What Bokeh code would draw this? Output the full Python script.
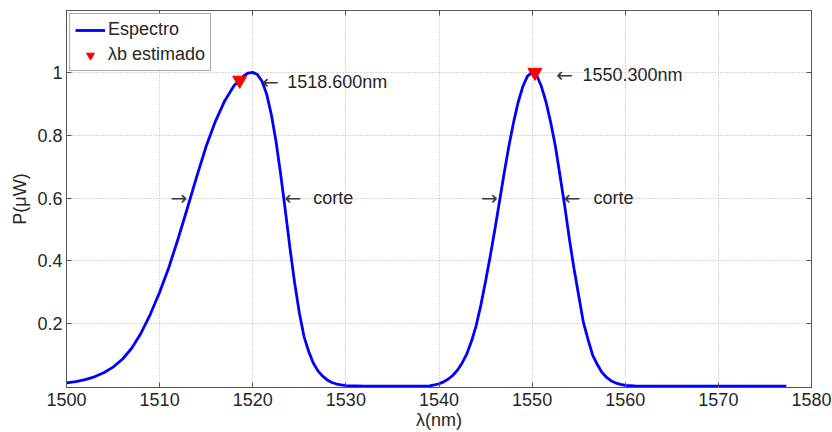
from bokeh.plotting import figure
from bokeh.models import (ColumnDataSource, LinearAxis, FixedTicker, Range1d,
                          Legend, LegendItem)
from bokeh.core.properties import value
from bokeh.embed import file_html
from bokeh.resources import INLINE

# ---------------- data ----------------
wavelength = [1500, 1501, 1502, 1503, 1504, 1505, 1506, 1507, 1508, 1509,
              1510, 1511, 1512, 1513, 1514, 1515, 1516, 1517, 1518,
              1518.6, 1519, 1519.5, 1520, 1520.5, 1521, 1521.5, 1522, 1522.5,
              1523, 1523.5, 1524, 1524.5, 1525, 1525.5, 1526, 1526.5, 1527,
              1527.5, 1528, 1528.5, 1529, 1529.5, 1530,
              1531, 1532, 1534, 1536, 1538, 1539, 1539.5,
              1540, 1540.5, 1541, 1541.5, 1542, 1542.5, 1543, 1543.5, 1544, 1544.5,
              1545, 1545.5, 1546, 1546.5, 1547, 1547.5, 1548, 1548.5, 1549, 1549.5,
              1550, 1550.5, 1551, 1551.5, 1552, 1552.5, 1553, 1553.5, 1554, 1554.5,
              1555, 1555.5, 1556, 1556.5, 1557, 1557.5, 1558, 1558.5, 1559, 1559.5,
              1560, 1560.5, 1561,
              1562, 1565, 1570, 1575, 1577.3]
power = [0.012, 0.016, 0.022, 0.031, 0.044, 0.062, 0.087, 0.122, 0.17, 0.23,
         0.30, 0.38, 0.472, 0.57, 0.67, 0.765, 0.845, 0.91, 0.958,
         0.975, 0.988, 0.998, 1.0, 0.993, 0.972, 0.93, 0.865, 0.78,
         0.675, 0.56, 0.44, 0.33, 0.235, 0.16, 0.112, 0.075, 0.05,
         0.033, 0.021, 0.013, 0.008, 0.005, 0.003,
         0.002, 0.001, 0.001, 0.001, 0.001, 0.002, 0.005,
         0.009, 0.015, 0.024, 0.036, 0.053, 0.076, 0.105, 0.145, 0.195, 0.26,
         0.335, 0.415, 0.5, 0.59, 0.68, 0.765, 0.84, 0.905, 0.955, 0.988,
         1.0, 0.99, 0.955, 0.905, 0.84, 0.765, 0.67, 0.575, 0.47, 0.375,
         0.29, 0.205, 0.15, 0.1, 0.07, 0.045, 0.029, 0.018, 0.011, 0.007,
         0.004, 0.003, 0.002,
         0.001, 0.001, 0.001, 0.001, 0.001]

est_wavelength = [1518.6, 1550.3]
est_power = [0.975, 1.0]

peak_arrow_x = [1521.0, 1552.6]
peak_text_x = [1523.7, 1555.4]
peak_label_y = [0.968, 0.992]
peak_labels = ["1518.600nm", "1550.300nm"]

cut_arrow_x = [1523.4, 1553.4]
cut_text_x = [1526.5, 1556.6]
cut_left_x = [1512.96, 1546.3]
cut_y = [0.6, 0.6]
cut_labels = ["corte", "corte"]
left_arrow = "\u2190"
right_arrow = "\u2192"

x_ticks = [1500, 1510, 1520, 1530, 1540, 1550, 1560, 1570, 1580]
x_tick_labels = ["1500", "1510", "1520", "1530", "1540", "1550", "1560", "1570", "1580"]
y_ticks = [0.2, 0.4, 0.6, 0.8, 1.0]
y_tick_labels = ["0.2", "0.4", "0.6", "0.8", "1"]

legend_labels = ["Espectro", "\u03bbb estimado"]
x_label = "\u03bb(nm)"
y_label = "P(\u03bcW)"

# ---------------- styling ----------------
FONT = "Liberation Sans"
ARROW_FONT = "DejaVu Sans"
FS = "18px"
TXT = "#262626"
ARC = "#3a3a3a"
AXC = "#555555"
GRID = "#b0b0b0"

p = figure(width=832, height=432,
           x_range=Range1d(1500, 1580), y_range=Range1d(-0.003, 1.197),
           output_backend="svg", toolbar_location=None,
           min_border_left=66, min_border_right=21,
           min_border_top=10, min_border_bottom=45)
p.background_fill_color = "white"
p.border_fill_color = "white"
p.outline_line_color = AXC
p.outline_line_width = 1

def style_axis(ax, ticks, labels, show_labels):
    ax.ticker = FixedTicker(ticks=ticks)
    ax.major_label_overrides = dict(zip(ticks, labels))
    ax.axis_line_color = AXC
    ax.major_tick_line_color = AXC
    ax.major_tick_in = 5
    ax.major_tick_out = 0
    ax.minor_tick_line_color = None
    ax.major_label_text_font = FONT
    ax.major_label_text_color = TXT
    if show_labels:
        ax.major_label_text_font_size = FS
        ax.major_label_standoff = 5
    else:
        ax.major_label_text_font_size = "0px"
        ax.major_label_standoff = 0

xb = p.xaxis[0]
yl = p.yaxis[0]
style_axis(xb, x_ticks, x_tick_labels, True)
style_axis(yl, y_ticks, y_tick_labels, True)
yl.major_label_standoff = 4
xb.axis_label = x_label
xb.axis_label_text_font = FONT
xb.axis_label_text_font_size = FS
xb.axis_label_text_font_style = "normal"
xb.axis_label_text_color = TXT
xb.axis_label_standoff = 1
yl.axis_label = y_label
yl.axis_label_text_font = FONT
yl.axis_label_text_font_size = FS
yl.axis_label_text_font_style = "normal"
yl.axis_label_text_color = TXT
yl.axis_label_standoff = 4

xt = LinearAxis()
style_axis(xt, x_ticks, ["" for _ in x_ticks], False)
p.add_layout(xt, "above")
yr = LinearAxis()
style_axis(yr, y_ticks, ["" for _ in y_ticks], False)
p.add_layout(yr, "right")

p.xgrid.ticker = FixedTicker(ticks=x_ticks)
p.ygrid.ticker = FixedTicker(ticks=y_ticks)
for g in (p.xgrid[0], p.ygrid[0]):
    g.grid_line_color = GRID
    g.grid_line_dash = "1 2"
    g.grid_line_width = 1

src = ColumnDataSource(dict(x=wavelength, y=power))
line = p.line("x", "y", source=src, line_color="#0000ff", line_width=2.8)

est = ColumnDataSource(dict(x=est_wavelength, y=est_power))
marks = p.scatter("x", "y", source=est, marker="inverted_triangle", size=14,
                  fill_color="#ff0000", line_color="#ff0000")

def add_text(xs, ys, texts, font, size, color, align):
    s = ColumnDataSource(dict(x=xs, y=ys, t=texts))
    p.text("x", "y", text="t", source=s, text_font=value(font),
           text_font_size=size, text_color=color, text_baseline="middle",
           text_align=align)

add_text(peak_arrow_x, peak_label_y, [left_arrow] * 2, ARROW_FONT, "20px", ARC, "left")
add_text(peak_text_x, peak_label_y, peak_labels, FONT, FS, TXT, "left")
add_text(cut_arrow_x, cut_y, [left_arrow] * 2, ARROW_FONT, "20px", ARC, "left")
add_text(cut_text_x, cut_y, cut_labels, FONT, FS, TXT, "left")
add_text(cut_left_x, cut_y, [right_arrow] * 2, ARROW_FONT, "20px", ARC, "right")

legend = Legend(items=[LegendItem(label=legend_labels[0], renderers=[line]),
                       LegendItem(label=legend_labels[1], renderers=[marks])],
                location="top_left")
legend.margin = 3
legend.padding = 5
legend.spacing = 4
legend.glyph_width = 30
legend.glyph_height = 20
legend.label_height = 20
legend.label_standoff = 3
legend.label_text_font = FONT
legend.label_text_font_size = FS
legend.label_text_color = TXT
legend.border_line_color = AXC
legend.border_line_width = 1
legend.background_fill_color = "white"
legend.background_fill_alpha = 1.0
p.add_layout(legend)

open("out.html", "w").write(file_html(p, INLINE))
